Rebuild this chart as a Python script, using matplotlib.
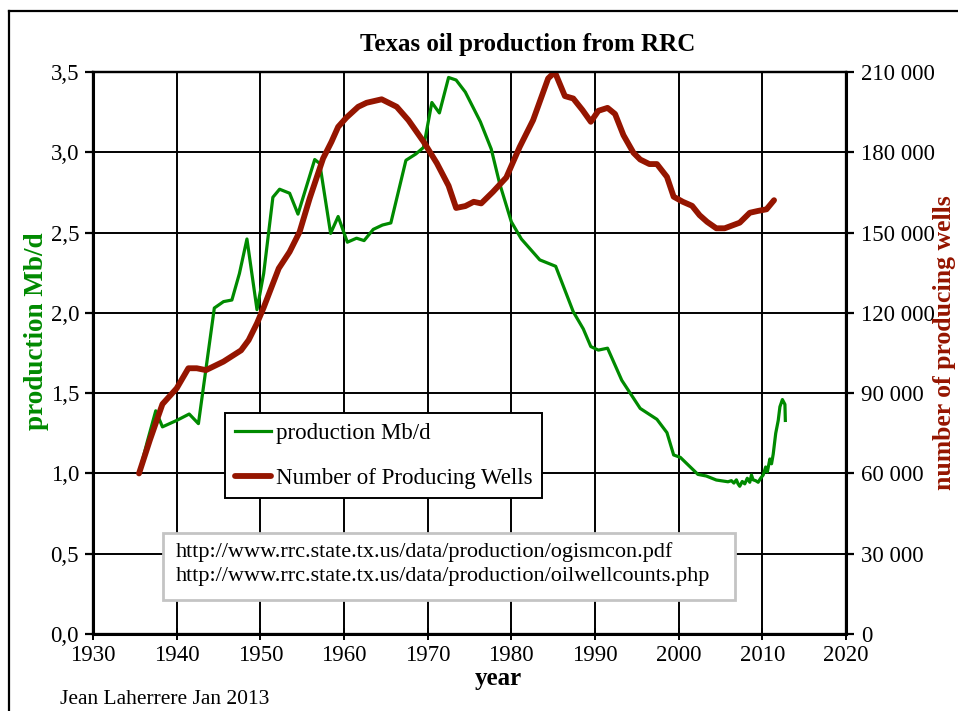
import matplotlib
matplotlib.use("Agg")
import matplotlib.pyplot as plt
from matplotlib.lines import Line2D
from matplotlib.patches import Rectangle
from matplotlib.ticker import FuncFormatter

# ---- data ----
prod_years = [1935.5, 1936.5, 1937.5, 1938.3, 1940.0, 1941.5, 1942.6, 1944.5, 1945.6, 1946.6,
              1947.5, 1948.4, 1949.6, 1950.4, 1951.5, 1952.3, 1953.5, 1954.5, 1956.5, 1957.1,
              1958.4, 1959.3, 1960.4, 1961.5, 1962.4, 1963.5, 1964.6, 1965.6, 1967.4, 1968.6,
              1969.5, 1970.5, 1971.4, 1972.5, 1973.4, 1974.5, 1976.3, 1977.6, 1978.6, 1980.0,
              1981.2, 1983.4, 1985.3, 1987.4, 1988.6, 1989.5, 1990.4, 1991.5, 1993.2, 1995.4,
              1997.4, 1998.6, 1999.4, 2000.2, 2002.3, 2003.3, 2004.5, 2005.9, 2006.3, 2006.6,
              2006.9, 2007.1, 2007.3, 2007.6, 2007.9, 2008.2, 2008.5, 2008.7, 2008.9, 2009.2,
              2009.5, 2009.8, 2010.1, 2010.4, 2010.6, 2010.9, 2011.1, 2011.3, 2011.6, 2011.9,
              2012.1, 2012.4, 2012.6, 2012.7, 2012.75]
prod_mbd = [1.00, 1.20, 1.39, 1.29, 1.33, 1.37, 1.31, 2.03, 2.07, 2.08,
            2.245, 2.46, 2.02, 2.245, 2.72, 2.77, 2.745, 2.615, 2.955, 2.93,
            2.495, 2.60, 2.44, 2.465, 2.45, 2.52, 2.547, 2.56, 2.95, 2.99,
            3.03, 3.31, 3.245, 3.466, 3.45, 3.375, 3.19, 3.02, 2.806, 2.567,
            2.46, 2.33, 2.29, 2.007, 1.90, 1.79, 1.768, 1.78, 1.58, 1.405,
            1.337, 1.254, 1.115, 1.10, 0.994, 0.984, 0.959, 0.948, 0.955, 0.94,
            0.96, 0.935, 0.92, 0.95, 0.935, 0.97, 0.945, 0.99, 0.96, 0.955,
            0.945, 0.97, 0.99, 1.04, 1.01, 1.09, 1.06, 1.12, 1.25, 1.33,
            1.415, 1.46, 1.44, 1.43, 1.33]

well_years = [1935.5, 1936.8, 1938.3, 1940.0, 1941.4, 1942.4, 1943.5, 1945.6, 1947.7, 1948.6,
              1949.6, 1950.4, 1952.2, 1953.5, 1954.7, 1955.9, 1957.5, 1958.5, 1959.3, 1960.3,
              1961.7, 1962.7, 1964.5, 1966.3, 1967.7, 1969.5, 1971.1, 1972.5, 1973.4, 1974.5,
              1975.5, 1976.4, 1977.8, 1979.4, 1981.0, 1982.6, 1984.4, 1985.2, 1986.4, 1987.4,
              1988.5, 1989.5, 1990.4, 1991.5, 1992.4, 1993.4, 1994.6, 1995.4, 1996.5, 1997.4,
              1998.6, 1999.4, 2000.5, 2001.6, 2002.5, 2003.4, 2004.5, 2005.5, 2007.3, 2008.5,
              2009.5, 2010.5, 2011.4]
well_count = [60000, 72500, 85900, 91800, 99300, 99300, 98600, 101800, 106000, 109800,
              116100, 122000, 136600, 142800, 150300, 162800, 177700, 183900, 189500, 193000,
              197000, 198500, 199800, 197000, 192000, 184000, 175900, 167500, 159200, 159900,
              161500, 160900, 165200, 170600, 182000, 192000, 207600, 210000, 201000, 200100,
              195800, 191400, 195500, 196600, 194300, 186400, 179800, 177300, 175600, 175600,
              170800, 163400, 161500, 160000, 156500, 154000, 151600, 151600, 153700, 157400,
              158100, 158700, 162100]

x_ticks = list(range(1930, 2021, 10))
left_ticks = [0.0, 0.5, 1.0, 1.5, 2.0, 2.5, 3.0, 3.5]
right_ticks = list(range(0, 210001, 30000))

title = "Texas oil production from RRC"
urls = ["http://www.rrc.state.tx.us/data/production/ogismcon.pdf",
        "http://www.rrc.state.tx.us/data/production/oilwellcounts.php"]

GREEN = "#008A00"
RED = "#951500"
W, H = 958, 711

plt.rcParams['font.family'] = ['Liberation Serif', 'DejaVu Serif']

fig = plt.figure(figsize=(W / 100, H / 100), dpi=100)
L, R, T, B = 93, 846, 72, 634
ax = fig.add_axes([L / W, 1 - B / H, (R - L) / W, (B - T) / H])
ax2 = ax.twinx()

ax.set_xlim(1930, 2020)
ax.set_ylim(0, 3.5)
ax2.set_ylim(0, 210000)
ax.set_xticks(x_ticks)
ax.set_yticks(left_ticks)
ax2.set_yticks(right_ticks)
ax.yaxis.set_major_formatter(FuncFormatter(lambda v, p: f"{v:.1f}".replace('.', ',')))
ax2.yaxis.set_major_formatter(FuncFormatter(lambda v, p: f"{int(v):,}".replace(',', ' ')))

ax.grid(True, color='black', lw=1.4)
ax.set_axisbelow(True)
for a in (ax, ax2):
    for s in a.spines.values():
        s.set_color('black')
        s.set_linewidth(1.6)
ax.spines['left'].set_linewidth(2.2)
ax.spines['bottom'].set_linewidth(2.2)
ax2.spines['right'].set_linewidth(2.2)

ax.tick_params(axis='y', direction='out', length=6, width=1.6, labelsize=16.5, pad=4)
ax.tick_params(axis='x', direction='inout', length=8, width=1.4, labelsize=16.5, pad=4)
ax2.tick_params(axis='y', direction='out', length=6, width=1.6, labelsize=16.5, pad=5)

l1, = ax.plot(prod_years, prod_mbd, color=GREEN, lw=2.3, solid_joinstyle='round')
l2, = ax2.plot(well_years, well_count, color=RED, lw=4.2, solid_joinstyle='round',
               solid_capstyle='round')

leg = ax2.legend([l1, l2], ["production Mb/d", "Number of Producing Wells"],
                 loc='upper left', bbox_to_anchor=(225 / W, 1 - 413 / H),
                 bbox_transform=fig.transFigure, borderaxespad=0, fancybox=False,
                 framealpha=1, edgecolor='black', fontsize=16.5, handlelength=1.6,
                 handletextpad=0.2, labelspacing=1.04, borderpad=0.42)
leg.get_frame().set_linewidth(1.4)

fig.text(528 / W, 1 - 45 / H, title, ha='center', va='center', fontsize=18, fontweight='bold')
fig.text(498 / W, 1 - 678 / H, "year", ha='center', va='center', fontsize=18, fontweight='bold')
fig.text(37 / W, 1 - 331 / H, "production Mb/d", ha='center', va='center', rotation=90,
         fontsize=19.5, fontweight='bold', color=GREEN)
fig.text(944 / W, 1 - 343 / H, "number of producing wells", ha='center', va='center',
         rotation=90, fontsize=18.5, fontweight='bold', color=RED)
fig.text(60 / W, 1 - 699 / H, "Jean Laherrere Jan 2013", ha='left', va='center', fontsize=15.5)

# URL box
fig.patches.append(Rectangle((163 / W, 1 - 600 / H), (735 - 163) / W, (600 - 533) / H,
                             transform=fig.transFigure, facecolor='white',
                             edgecolor='#c4c4c4', lw=2, zorder=5))
fig.text(176 / W, 1 - 552 / H, urls[0], ha='left', va='center', fontsize=16, zorder=6)
fig.text(176 / W, 1 - 577 / H, urls[1], ha='left', va='center', fontsize=16, zorder=6)

# outer frame
fig.add_artist(Line2D([9 / W, 9 / W], [0, 1 - 11 / H], transform=fig.transFigure,
                      color='black', lw=1.6))
fig.add_artist(Line2D([9 / W, 1], [1 - 11 / H, 1 - 11 / H], transform=fig.transFigure,
                      color='black', lw=1.6))

fig.savefig("out.png", dpi=100)
